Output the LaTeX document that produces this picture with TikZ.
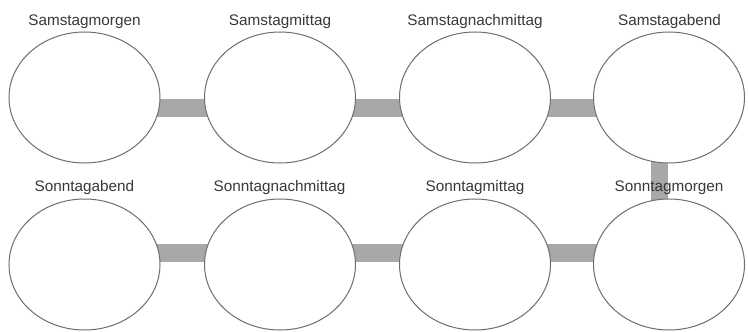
\documentclass[tikz,border=0pt]{standalone}
\usepackage{fontspec}
\setmainfont{Liberation Sans}
\usetikzlibrary{shapes.geometric,backgrounds}
\definecolor{barc}{HTML}{A8A8AA}
\definecolor{linec}{HTML}{6E6E6E}
\definecolor{txtc}{HTML}{383838}
\tikzset{
  oval/.style={ellipse, draw=linec, line width=1bp, fill=white, minimum width=151bp, minimum height=131bp, inner sep=0pt},
  bar/.style={draw=barc, line width=18bp},
  lbl/.style={anchor=base, text=txtc, font=\fontsize{15.3bp}{18bp}\selectfont, inner sep=0pt}
}
\begin{document}
\begin{tikzpicture}[x=1bp,y=1bp]
\useasboundingbox (0,0) rectangle (748,331);
% top row (y_tikz = 331 - y_img)
\node[oval] (a1) at (84.5,233.5) {};
\node[oval] (a2) at (280,233.5) {};
\node[oval] (a3) at (475,233.5) {};
\node[oval] (a4) at (669,233.5) {};
% bottom row
\node[oval] (b1) at (84.5,66.5) {};
\node[oval] (b2) at (280,66.5) {};
\node[oval] (b3) at (475,66.5) {};
\node[oval] (b4) at (669,66.5) {};
\begin{scope}[on background layer]
\draw[bar] ([yshift=-10.5bp]a1.center) -- ([yshift=-10.5bp]a2.center);
\draw[bar] ([yshift=-10.5bp]a2.center) -- ([yshift=-10.5bp]a3.center);
\draw[bar] ([yshift=-10.5bp]a3.center) -- ([yshift=-10.5bp]a4.center);
\draw[bar, line width=17bp] ([xshift=-9.5bp]a4.center) -- ([xshift=-9.5bp]b4.center);
\draw[bar] ([yshift=12bp]b4.center) -- ([yshift=12bp]b3.center);
\draw[bar] ([yshift=12bp]b3.center) -- ([yshift=12bp]b2.center);
\draw[bar] ([yshift=12bp]b2.center) -- ([yshift=12bp]b1.center);
\end{scope}
% labels
\node[lbl] (la1) at (84.5,306) {Samstagmorgen};
\node[lbl] (la2) at (280,306) {Samstagmittag};
\node[lbl] (la3) at (475,306) {Samstagnachmittag};
\node[lbl] (la4) at (669.5,306) {Samstagabend};
\node[lbl] (lb1) at (84.5,139.5) {Sonntagabend};
\node[lbl] (lb2) at (279.5,139.5) {Sonntagnachmittag};
\node[lbl] (lb3) at (475,139.5) {Sonntagmittag};
\node[lbl] (lb4) at (669,139.5) {Sonntagmorgen};
\end{tikzpicture}
\end{document}
